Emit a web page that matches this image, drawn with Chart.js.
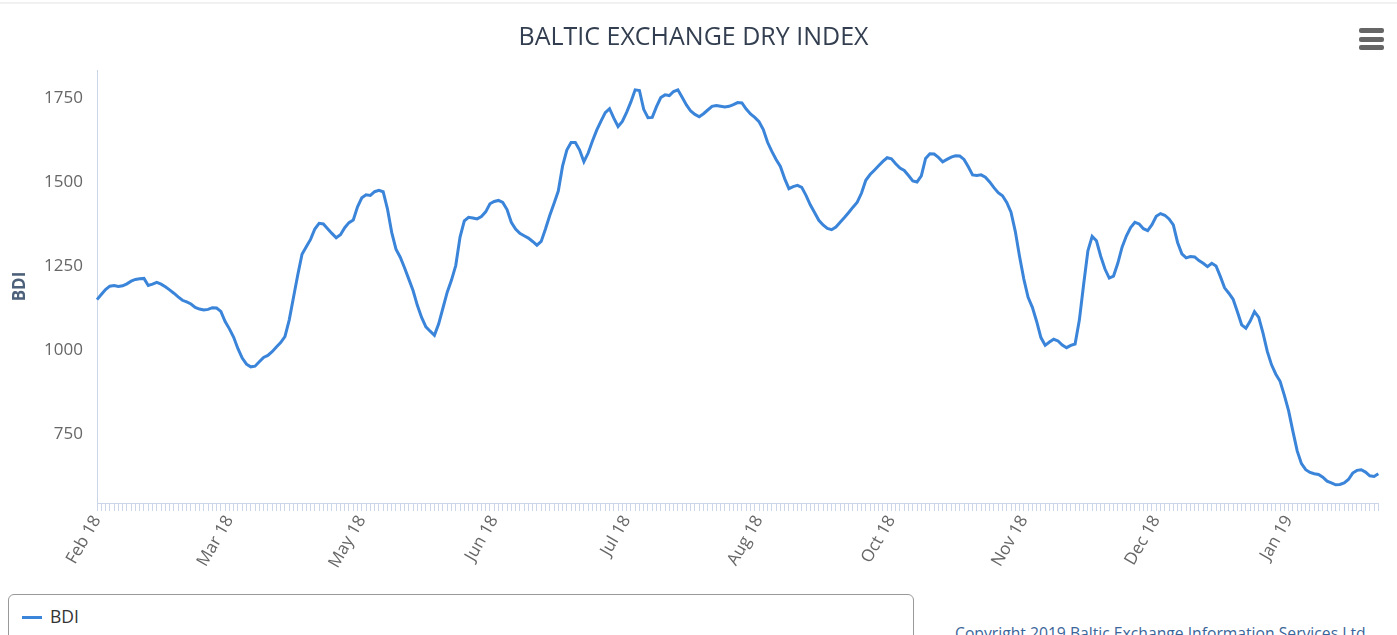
<!DOCTYPE html>
<html>
<head>
<meta charset="utf-8">
<script src="https://cdn.jsdelivr.net/npm/chart.js@4/dist/chart.umd.min.js"></script>
<style>
  html, body { margin: 0; padding: 0; background: #fff; overflow: hidden; }
  body { width: 1397px; height: 635px; position: relative; font-family: 'Open Sans', sans-serif; }
  #topline { position: absolute; left: 0; top: 2px; width: 1397px; height: 2px; background: #f1f1f1; }
  #wrap { position: absolute; left: 0; top: 0; width: 1397px; height: 590px; }
  .bar { position: absolute; left: 1359px; width: 25px; height: 5px; border-radius: 2px; background: #666; }
  #legend { position: absolute; left: 8px; top: 594px; width: 906px; height: 60px; border: 1px solid #999; border-radius: 6px; box-sizing: border-box; }
  #legend .mk { position: absolute; left: 13px; top: 21px; width: 20px; height: 3px; background: #3a84d9; }
  #legend .tx { position: absolute; left: 41px; top: 10px; font-size: 17.5px; color: #333; line-height: 22px; }
  #copy { position: absolute; left: 955px; top: 623px; font-size: 15.7px; color: #3a659a; white-space: nowrap; line-height: 20px; }
</style>
</head>
<body>
<div id="topline"></div>
<div id="wrap"><canvas id="c" width="1397" height="590"></canvas></div>
<div class="bar" style="top:28px"></div>
<div class="bar" style="top:37px"></div>
<div class="bar" style="top:45px"></div>
<div id="legend"><div class="mk"></div><div class="tx">BDI</div></div>
<div id="copy">Copyright 2019 Baltic Exchange Information Services Ltd</div>
<script>
const tickLabels = ['Feb 18', 'Mar 18', 'May 18', 'Jun 18', 'Jul 18', 'Aug 18', 'Oct 18', 'Nov 18', 'Dec 18', 'Jan 19'];
const labelStep = 31;
const yTicks = [750, 1000, 1250, 1500, 1750];
const bdi = [
1150,1165,1180,1190,1192,1189,1191,1197,1205,1210,
1212,1213,1192,1196,1201,1196,1188,1179,1169,1158,
1148,1143,1137,1127,1122,1119,1121,1126,1125,1115,
1085,1063,1038,1004,976,958,950,952,965,978,
984,995,1009,1022,1040,1089,1156,1223,1285,1307,
1329,1360,1377,1375,1361,1347,1334,1343,1364,1379,
1387,1426,1453,1462,1460,1471,1475,1471,1420,1350,
1300,1276,1245,1211,1177,1133,1097,1069,1056,1044,
1078,1125,1172,1208,1252,1336,1384,1395,1393,1390,
1397,1411,1435,1442,1445,1439,1418,1380,1360,1347,
1340,1333,1323,1312,1323,1360,1400,1436,1473,1547,
1595,1617,1617,1595,1560,1586,1622,1654,1681,1706,
1718,1690,1665,1680,1707,1738,1774,1772,1716,1691,
1692,1724,1751,1759,1757,1769,1774,1752,1729,1711,
1701,1694,1703,1714,1725,1727,1725,1723,1725,1730,
1736,1735,1717,1702,1692,1679,1656,1618,1591,1567,
1546,1510,1480,1486,1490,1484,1460,1432,1409,1386,
1372,1362,1358,1366,1380,1394,1409,1425,1440,1467,
1505,1522,1535,1548,1561,1572,1569,1554,1541,1534,
1519,1503,1500,1518,1570,1584,1583,1573,1560,1567,
1574,1578,1577,1567,1545,1521,1519,1521,1514,1500,
1483,1468,1459,1439,1410,1353,1278,1211,1157,1127,
1085,1037,1014,1024,1032,1027,1015,1007,1014,1018,
1089,1195,1295,1338,1325,1279,1241,1214,1220,1258,
1306,1339,1364,1380,1375,1361,1355,1373,1398,1406,
1401,1390,1372,1320,1286,1274,1278,1277,1266,1258,
1248,1258,1250,1219,1185,1169,1151,1114,1075,1065,
1086,1114,1097,1050,996,956,928,907,865,819,
758,700,662,644,636,632,630,622,610,605,
599,600,605,615,634,642,644,637,626,624,
632
];
const categories = bdi.map((v, i) => (i % labelStep === 0 && tickLabels[i / labelStep]) ? tickLabels[i / labelStep] : '');

new Chart(document.getElementById('c'), {
  type: 'line',
  data: {
    labels: categories,
    datasets: [{
      label: 'BDI',
      data: bdi,
      borderColor: '#3a84d9',
      backgroundColor: '#3a84d9',
      borderWidth: 3,
      pointRadius: 0,
      tension: 0,
      fill: false
    }]
  },
  options: {
    responsive: false,
    animation: false,
    devicePixelRatio: 1,
    layout: { padding: { left: 0, right: 10, top: 0, bottom: 0 } },
    plugins: {
      legend: { display: false },
      tooltip: { enabled: false },
      title: {
        display: true,
        text: 'BALTIC EXCHANGE DRY INDEX',
        color: '#333f50',
        font: { family: "'Open Sans', sans-serif", size: 25, weight: 'normal' },
        padding: { top: 23, bottom: 17 }
      }
    },
    scales: {
      x: {
        type: 'category',
        offset: false,
        grid: { display: true, drawOnChartArea: false, drawTicks: true, tickLength: 8, color: '#ccd6eb', lineWidth: 1 },
        border: { display: true, color: '#ccd6eb', width: 1 },
        ticks: {
          autoSkip: false,
          maxRotation: 60,
          minRotation: 60,
          padding: 1,
          color: '#666666',
          font: { family: "'Open Sans', sans-serif", size: 17 }
        },
        afterFit: (s) => { s.height = 87; }
      },
      y: {
        min: 545,
        max: 1833,
        afterBuildTicks: (s) => { s.ticks = yTicks.map(v => ({ value: v })); },
        grid: { display: false, drawTicks: false },
        border: { display: true, color: '#ccd6eb', width: 1 },
        ticks: {
          padding: 14,
          color: '#666666',
          font: { family: "'Open Sans', sans-serif", size: 17 },
          callback: (v) => String(v)
        },
        title: {
          display: true,
          text: 'BDI',
          color: '#4d6079',
          font: { family: "'Open Sans', sans-serif", size: 17, weight: 'bold' },
          padding: { top: 10, bottom: 0 }
        },
        afterFit: (s) => { s.width = 97; }
      }
    }
  }
});
</script>
</body>
</html>
